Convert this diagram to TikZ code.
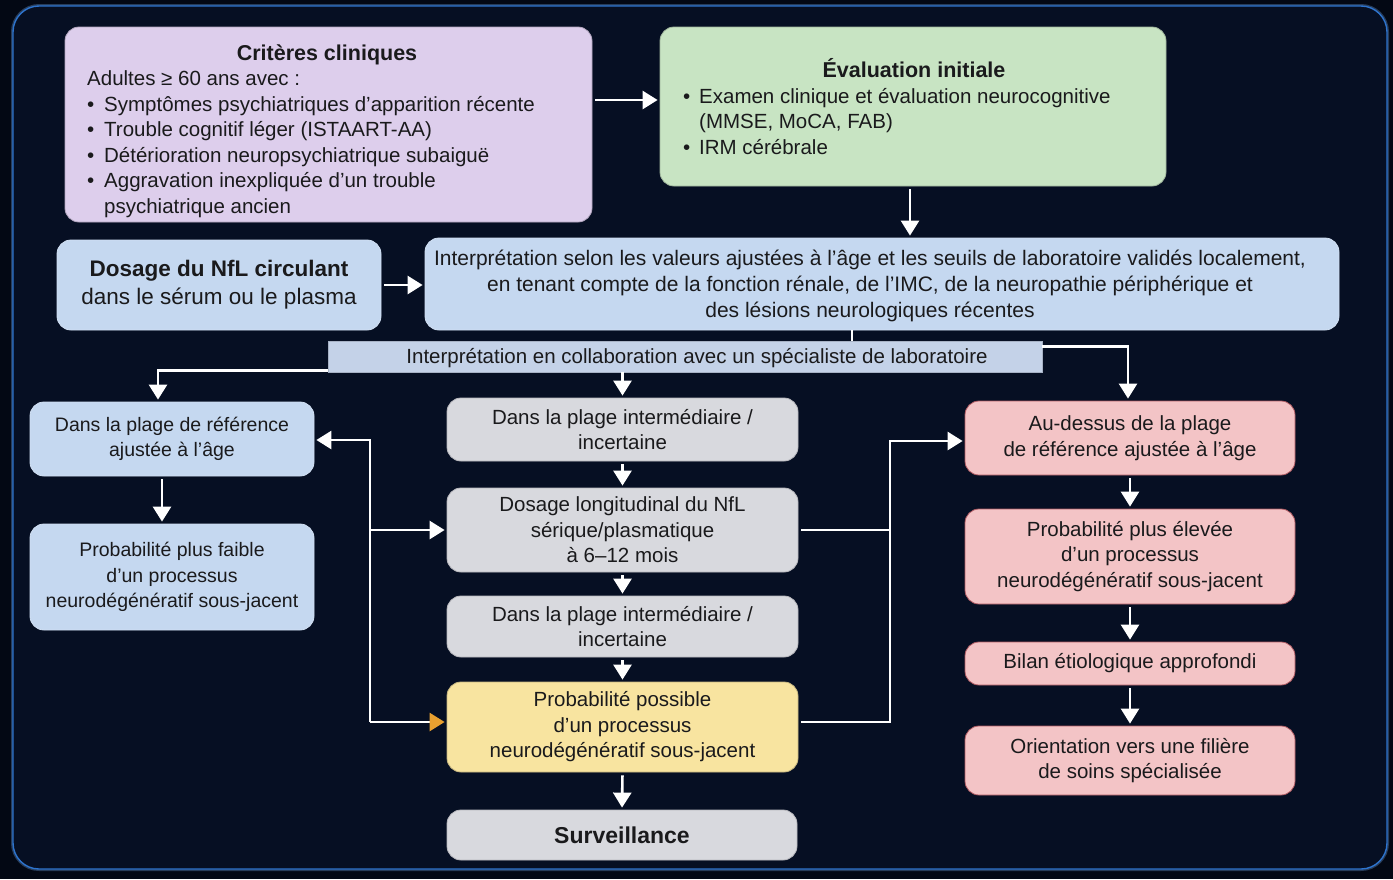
\documentclass[tikz,border=0pt]{standalone}
\usepackage{fontspec}
\setmainfont{Liberation Sans}
\usetikzlibrary{arrows.meta,calc}
\definecolor{outerbg}{RGB}{3,8,20}
\definecolor{innerbg}{RGB}{6,15,35}
\definecolor{framecol}{RGB}{45,115,205}
\definecolor{txt}{RGB}{26,26,28}
\definecolor{cpurple}{RGB}{221,206,236}
\definecolor{cgreen}{RGB}{200,228,195}
\definecolor{cblue}{RGB}{197,216,240}
\definecolor{cbar}{RGB}{196,210,232}
\definecolor{cgray}{RGB}{216,217,222}
\definecolor{cyellow}{RGB}{248,228,160}
\definecolor{cpink}{RGB}{243,196,198}
\definecolor{pinkline}{RGB}{175,90,98}
\definecolor{arrorange}{RGB}{232,160,48}
\newcommand\mybul{\makebox[17pt][l]{•}}
\newcommand\mybulb{\makebox[16pt][l]{•}}
\begin{document}
\begin{tikzpicture}[x=1pt,y=-1pt,
  body/.style={text=txt, inner sep=0pt, font=\fontsize{20.5}{25.5}\selectfont},
  title/.style={text=txt, inner sep=0pt, font=\fontsize{21.5}{26}\selectfont\bfseries},
  box/.style={rounded corners=14pt, line width=0.8pt, text=txt, align=center, inner sep=0pt, font=\fontsize{20.5}{25.5}\selectfont},
  purplebox/.style={box, fill=cpurple, draw=cpurple!80!black},
  greenbox/.style={box, fill=cgreen, draw=cgreen!80!black},
  bluebox/.style={box, fill=cblue, draw=cblue!80!white},
  graybox/.style={box, fill=cgray, draw=cgray!85!black},
  yellowbox/.style={box, fill=cyellow, draw=cyellow!80!black},
  pinkbox/.style={box, fill=cpink, draw=pinkline},
  narrow/.style={font=\fontsize{19.5}{25.5}\selectfont},
  wire/.style={draw=white, line width=2.6pt},
  arr/.style={wire, -{Triangle[length=15pt,width=18pt]}, shorten >=2pt, shorten <=3pt},
  arrO/.style={wire, -{Triangle[length=15pt,width=18pt,color=arrorange]}, shorten >=2pt}
]
\fill[outerbg] (0,0) rectangle (1393,879);
\useasboundingbox (0,0) rectangle (1393,879);
\draw[framecol!70, line width=4pt, opacity=0.35, rounded corners=26pt] (13,6) rectangle (1387,869);
\draw[framecol, line width=1.4pt, fill=innerbg, rounded corners=26pt] (13,6) rectangle (1387,869);

% top row
\node[purplebox, minimum width=527pt, minimum height=195pt] (crit) at (328.5,124.5) {};
\node[title] (critT) at (327,55) {Critères cliniques};
\node[body, anchor=west, align=left] (critL) at (87,144) {Adultes ≥ 60 ans avec :\\
\mybul Symptômes psychiatriques d'apparition récente\\
\mybul Trouble cognitif léger (ISTAART-AA)\\
\mybul Détérioration neuropsychiatrique subaiguë\\
\mybul Aggravation inexpliquée d'un trouble\\
\hspace*{17pt}psychiatrique ancien};

\node[greenbox, minimum width=506pt, minimum height=159pt] (eval) at (913,106.5) {};
\node[title] (evalT) at (914,68) {Évaluation initiale};
\node[body, anchor=west, align=left] (evalL) at (683,121.5) {\mybulb Examen clinique et évaluation neurocognitive\\
\hspace*{16pt}(MMSE, MoCA, FAB)\\
\mybulb IRM cérébrale};

% second row
\node[bluebox, minimum width=324pt, minimum height=90pt, font=\fontsize{22.5}{28}\selectfont] (nfl) at (219,285) {\textbf{Dosage du NfL circulant}\\dans le sérum ou le plasma};
\node[bluebox, minimum width=914pt, minimum height=92pt] (interp) at (882,284) {};
\node[body, align=center, font=\fontsize{21}{26}\selectfont] (interpT) at (870,286) {Interprétation selon les valeurs ajustées à l'âge et les seuils de laboratoire validés localement,\\
en tenant compte de la fonction rénale, de l'IMC, de la neuropathie périphérique et\\
des lésions neurologiques récentes};

% bar
\node[fill=cbar, draw=cbar!85!black, line width=0.6pt, minimum width=714pt, minimum height=31pt, inner sep=0pt] (bar) at (685,356.5) {};
\node[body] (barT) at (697,358) {Interprétation en collaboration avec un spécialiste de laboratoire};

% left column
\node[bluebox, narrow, minimum width=284pt, minimum height=74pt] (lref) at (172,439) {Dans la plage de référence\\ajustée à l'âge};
\node[bluebox, narrow, minimum width=284pt, minimum height=106pt] (lprob) at (172,577) {Probabilité plus faible\\d'un processus\\neurodégénératif sous-jacent};

% center column
\node[graybox, minimum width=351pt, minimum height=63pt] (mid1) at (622.5,429.5) {Dans la plage intermédiaire /\\incertaine};
\node[graybox, minimum width=351pt, minimum height=84pt] (longi) at (622.5,530) {Dosage longitudinal du NfL\\sérique/plasmatique\\à 6–12 mois};
\node[graybox, minimum width=351pt, minimum height=61pt] (mid2) at (622.5,626.5) {Dans la plage intermédiaire /\\incertaine};
\node[yellowbox, minimum width=351pt, minimum height=90pt] (poss) at (622.5,727) {Probabilité possible\\d'un processus\\neurodégénératif sous-jacent};
\node[graybox, minimum width=350pt, minimum height=50pt, font=\fontsize{23}{26}\selectfont\bfseries] (surv) at (622,835) {Surveillance};

% right column
\node[pinkbox, minimum width=330pt, minimum height=74pt] (above) at (1130,438) {Au-dessus de la plage\\de référence ajustée à l'âge};
\node[pinkbox, minimum width=330pt, minimum height=95pt] (rprob) at (1130,556.5) {Probabilité plus élevée\\d'un processus\\neurodégénératif sous-jacent};
\node[pinkbox, minimum width=330pt, minimum height=43pt] (bilan) at (1130,663.5) {Bilan étiologique approfondi};
\node[pinkbox, minimum width=330pt, minimum height=69pt] (orient) at (1130,760.5) {Orientation vers une filière\\de soins spécialisée};

% connectors
\draw[arr] (crit.east |- 0,100) -- (eval.west |- 0,100);
\draw[arr] (eval.south -| 910,0) -- (interp.north -| 910,0);
\draw[arr] (nfl.east) -- (interp.west |- nfl.east);
\draw[wire] (interp.south -| 852,0) -- (bar.north -| 852,0);
\draw[arr, shorten <=0pt] ([yshift=2pt]bar.south west) -| ([xshift=-14pt]lref.north);
\draw[arr, shorten <=0pt] (bar.south -| mid1.north) -- (mid1.north);
\draw[arr, shorten <=0pt] ([yshift=-6pt]bar.north east) -| ([xshift=-2pt]above.north);

\coordinate (lbT) at (370,440);
\coordinate (lbB) at (370,722);
\draw[arr, shorten <=0pt] (lbB) -- (lbT) -- (lbT -| lref.east);
\draw[arr, shorten <=0pt] (lbT |- longi.west) -- (longi.west);
\draw[arrO] (lbB) -- (lbB -| poss.west);

\coordinate (rbT) at (890,441);
\coordinate (rbB) at (890,722);
\draw[arr] (rbB -| poss.east) -- (rbB) -- (rbT) -- (rbT -| above.west);
\draw[wire, shorten <=3pt] (longi.east) -- (longi.east -| rbT);

\draw[arr] ([xshift=-10pt]lref.south) -- ([xshift=-10pt]lprob.north);
\draw[arr] (mid1.south) -- (longi.north);
\draw[arr] (longi.south) -- (mid2.north);
\draw[arr] (mid2.south) -- (poss.north);
\draw[arr] (poss.south) -- (surv.north);
\draw[arr] (above.south) -- (rprob.north);
\draw[arr] (rprob.south) -- (bilan.north);
\draw[arr] (bilan.south) -- (orient.north);
\end{tikzpicture}
\end{document}
